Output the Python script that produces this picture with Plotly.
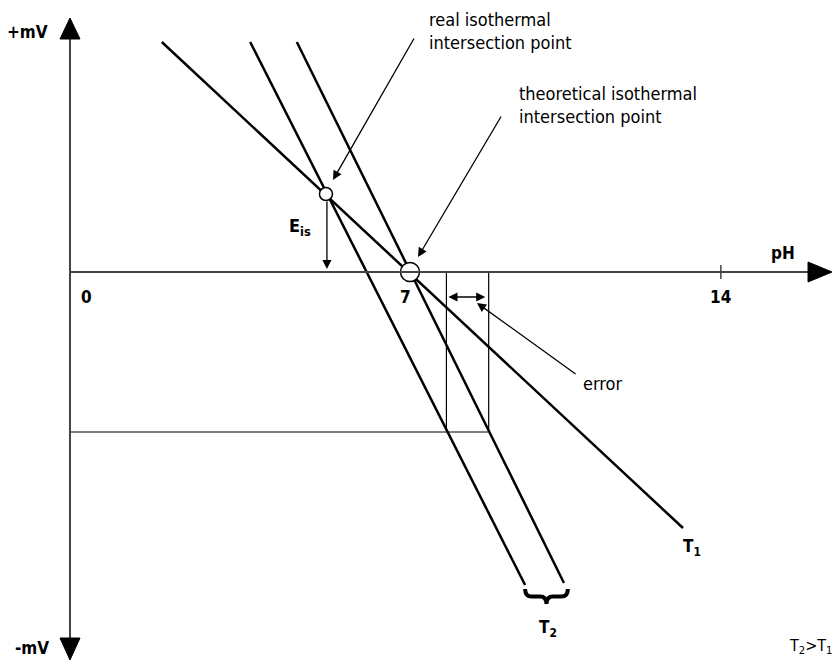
import plotly.graph_objects as go

# schematic units: x in pH, y in mV (arbitrary scale)
ph_ticks = [0, 7, 13.4]
ph_tick_labels = ["0", "7", "14"]

t1_ph = [1.89, 12.62]
t1_mv = [460, -512]
t2a_ph = [3.71, 9.37]
t2a_mv = [460, -626]
t2b_ph = [4.67, 10.17]
t2b_mv = [460, -622]

real_point = (5.27, 156)
theo_point = (7.0, 0)

error_band_ph = [7.75, 8.62]
error_band_mv = -320

FONT = "Liberation Sans Narrow, DejaVu Sans Condensed, Arial Narrow, sans-serif"
AXIS_COLOR = "#444444"


def brace_path(x0, x1, y, depth):
    """Curly brace opening upward, tip pointing down."""
    xm = (x0 + x1) / 2
    d = depth / 2
    w = (x1 - x0) * 0.15
    return (f"M {x0},{y} Q {x0},{y - d} {x0 + w},{y - d} "
            f"L {xm - w},{y - d} Q {xm},{y - d} {xm},{y - depth} "
            f"Q {xm},{y - d} {xm + w},{y - d} "
            f"L {x1 - w},{y - d} Q {x1},{y - d} {x1},{y}")


def tri(points, color="black"):
    p = " L ".join(f"{x},{y}" for x, y in points)
    return dict(type="path", path=f"M {p} Z", fillcolor=color,
                line=dict(color=color, width=1), xref="x", yref="y")


fig = go.Figure()

# temperature lines
for xs, ys in [(t1_ph, t1_mv), (t2a_ph, t2a_mv), (t2b_ph, t2b_mv)]:
    fig.add_trace(go.Scatter(x=xs, y=ys, mode="lines",
                             line=dict(color="black", width=2.5),
                             hoverinfo="skip", showlegend=False))

# error construction
for xv in error_band_ph:
    fig.add_trace(go.Scatter(x=[xv, xv], y=[0, error_band_mv], mode="lines",
                             line=dict(color="black", width=1.2),
                             hoverinfo="skip", showlegend=False))
fig.add_trace(go.Scatter(x=[0, error_band_ph[1]], y=[error_band_mv, error_band_mv],
                         mode="lines", line=dict(color="black", width=1.2),
                         hoverinfo="skip", showlegend=False))

# intersection points
fig.add_trace(go.Scatter(x=[real_point[0]], y=[real_point[1]], mode="markers",
                         marker=dict(size=13, color="white",
                                     line=dict(color="black", width=1.5)),
                         hoverinfo="skip", showlegend=False))
fig.add_trace(go.Scatter(x=[theo_point[0]], y=[theo_point[1]], mode="markers",
                         marker=dict(size=19, color="white",
                                     line=dict(color="black", width=1.5)),
                         hoverinfo="skip", showlegend=False))

shapes = [
    # axes
    dict(type="line", x0=0, x1=0, y0=470, y1=-735, line=dict(color=AXIS_COLOR, width=2)),
    dict(type="line", x0=0, x1=15.2, y0=0, y1=0, line=dict(color=AXIS_COLOR, width=2)),
    dict(type="line", x0=ph_ticks[2], x1=ph_ticks[2], y0=14, y1=-14,
         line=dict(color=AXIS_COLOR, width=1.5)),
    tri([(-0.206, 466), (0, 508), (0.206, 466)]),
    tri([(-0.206, -732), (0, -776), (0.206, -732)]),
    tri([(15.195, 20), (15.69, 0), (15.195, -20)]),
    dict(type="path", path=brace_path(t2a_ph[1], t2b_ph[1] + 0.08, -634, 30),
         line=dict(color="black", width=4)),
]

ann = []


def text(x, y, s, size=17, bold=False, xanchor="center", yanchor="middle"):
    ann.append(dict(x=x, y=y, text=f"<b>{s}</b>" if bold else s, showarrow=False,
                    xanchor=xanchor, yanchor=yanchor, align="left",
                    font=dict(family=FONT, size=size, color="black")))


def pointer(x0, y0, x1, y1, side="end"):
    ann.append(dict(x=x1, y=y1, ax=x0, ay=y0, axref="x", ayref="y", xref="x", yref="y",
                    text="", showarrow=True, arrowhead=2, arrowsize=1.4,
                    arrowwidth=1.3, arrowcolor="black", arrowside=side,
                    standoff=0, startstandoff=0))


for pos, lab in zip(ph_ticks, ph_tick_labels):
    text(pos + (0.35 if lab == "0" else -0.1 if lab == "7" else 0), -50, lab, bold=True)
text(14.68, 38, "pH", bold=True)
text(-0.88, 480, "+mV", bold=True)
text(-0.78, -752, "-mV", bold=True)
text(12.81, -550, "T<sub>1</sub>", bold=True)
text(9.84, -712, "T<sub>2</sub>", bold=True)
text(5.0, 90, "E<sub>is</sub>", size=18, bold=True, xanchor="right")
text(14.76, -748, "T<sub>2</sub>&gt;T<sub>1</sub>", size=16, xanchor="left")
text(7.35, 483, "real isothermal<br>intersection point", size=18, xanchor="left")
text(9.2, 334, "theoretical isothermal<br>intersection point", size=18, xanchor="left")
text(10.97, -222, "error", size=18)

pointer(7.10, 470, 5.415, 184)
pointer(8.894, 314, 7.165, 30)
pointer(10.44, -206, 8.38, -62)
pointer(5.29, 144, 5.29, 6)
pointer(7.76, -50, 8.55, -50, side="end+start")

fig.update_layout(
    width=838, height=663,
    margin=dict(l=0, r=0, t=0, b=0),
    paper_bgcolor="white", plot_bgcolor="white",
    xaxis=dict(range=[-1.441, 15.812], visible=False, fixedrange=True),
    yaxis=dict(range=[-782, 544], visible=False, fixedrange=True),
    shapes=shapes, annotations=ann, showlegend=False,
)

# drop the default page margin so the figure sits at the window corner
fig.write_html("out.html", config={"displayModeBar": False},
               post_script="document.body.style.margin='0';")
